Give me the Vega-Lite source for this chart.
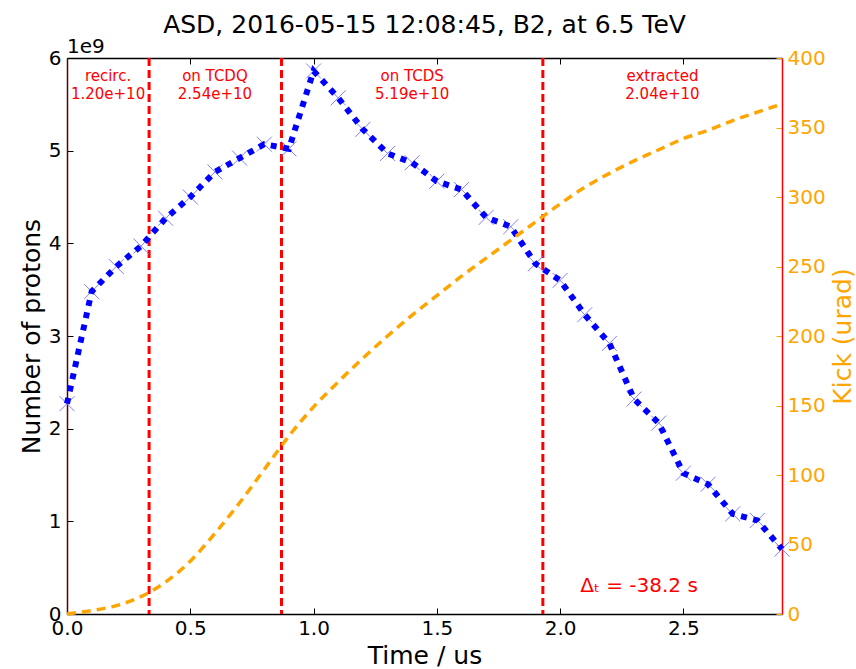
{
  "$schema": "https://vega.github.io/schema/vega-lite/v6.json",
  "width": 715,
  "height": 556,
  "autosize": {"type": "none"},
  "padding": {"left": 67, "top": 58, "right": 74, "bottom": 55},
  "title": {"text": "ASD, 2016-05-15 12:08:45, B2, at 6.5 TeV", "fontSize": 25, "fontWeight": "normal", "font": "DejaVu Sans", "color": "black", "anchor": "middle", "offset": -1},
  "config": {
    "view": {"stroke": null},
    "font": "DejaVu Sans",
    "axis": {"grid": false, "labelFont": "DejaVu Sans", "titleFont": "DejaVu Sans", "labelFontSize": 20, "titleFontSize": 25, "titleFontWeight": "normal", "labelColor": "black", "titleColor": "black", "tickColor": "black", "domainColor": "black", "domainWidth": 1.5, "tickWidth": 1, "labelFlush": false, "labelOverlap": false}
  },
  "datasets": {
    "main": [
      {"t": 0.0, "n": 2.27, "kick": 0},
      {"t": 0.1, "n": 3.48, "kick": 2.5},
      {"t": 0.2, "n": 3.75, "kick": 6},
      {"t": 0.3, "n": 3.97, "kick": 12.5},
      {"t": 0.4, "n": 4.27, "kick": 23},
      {"t": 0.5, "n": 4.50, "kick": 38},
      {"t": 0.6, "n": 4.77, "kick": 58},
      {"t": 0.7, "n": 4.92, "kick": 80},
      {"t": 0.8, "n": 5.07, "kick": 104},
      {"t": 0.9, "n": 5.02, "kick": 128},
      {"t": 1.0, "n": 5.86, "kick": 149},
      {"t": 1.1, "n": 5.57, "kick": 167},
      {"t": 1.2, "n": 5.23, "kick": 184},
      {"t": 1.3, "n": 4.97, "kick": 200},
      {"t": 1.4, "n": 4.87, "kick": 215},
      {"t": 1.5, "n": 4.67, "kick": 229},
      {"t": 1.6, "n": 4.58, "kick": 243},
      {"t": 1.7, "n": 4.28, "kick": 256},
      {"t": 1.8, "n": 4.18, "kick": 269},
      {"t": 1.9, "n": 3.78, "kick": 282},
      {"t": 2.0, "n": 3.60, "kick": 295},
      {"t": 2.1, "n": 3.23, "kick": 307},
      {"t": 2.2, "n": 2.92, "kick": 317},
      {"t": 2.3, "n": 2.32, "kick": 326},
      {"t": 2.4, "n": 2.06, "kick": 334},
      {"t": 2.5, "n": 1.52, "kick": 342},
      {"t": 2.6, "n": 1.40, "kick": 348},
      {"t": 2.7, "n": 1.08, "kick": 355},
      {"t": 2.8, "n": 1.01, "kick": 361},
      {"t": 2.9, "n": 0.70, "kick": 367}
    ],
    "vlines": [{"t": 0.333}, {"t": 0.87}, {"t": 1.93}],
    "regions": [
      {"t": 0.1665, "y": 5.88, "label": "recirc.\n1.20e+10"},
      {"t": 0.60, "y": 5.88, "label": "on TCDQ\n2.54e+10"},
      {"t": 1.40, "y": 5.88, "label": "on TCDS\n5.19e+10"},
      {"t": 2.415, "y": 5.88, "label": "extracted\n2.04e+10"}
    ],
    "delta": [{"t": 2.32, "y": 0.30, "label": "Δₜ = -38.2 s"}],
    "exp": [{"t": 0, "y": 6, "label": "1e9"}]
  },
  "layer": [
    {
      "data": {"name": "vlines"},
      "mark": {"type": "rule", "color": "red", "strokeWidth": 3, "strokeDash": [8, 4]},
      "encoding": {
        "x": {"field": "t", "type": "quantitative", "scale": {"domain": [0, 2.9], "nice": false, "zero": false},
          "axis": {"orient": "top", "labels": false, "title": null, "values": [0, 0.5, 1, 1.5, 2, 2.5], "tickSize": -6, "domainColor": "black"}}
      }
    },
    {
      "data": {"name": "main"},
      "mark": {"type": "point", "shape": "M-1,-1L1,1M-1,1L1,-1", "filled": false, "stroke": "#7f7fff", "strokeWidth": 1, "size": 225, "opacity": 1},
      "encoding": {
        "x": {"field": "t", "type": "quantitative", "scale": {"domain": [0, 2.9], "nice": false, "zero": false}, "axis": null},
        "y": {"field": "n", "type": "quantitative", "scale": {"domain": [0, 6], "nice": false},
          "axis": {"orient": "left", "values": [0, 1, 2, 3, 4, 5, 6], "format": "d", "title": "Number of protons", "tickSize": -6, "labelPadding": 12, "titlePadding": 4, "domainColor": "#5a0000"}}
      }
    },
    {
      "data": {"name": "main"},
      "mark": {"type": "line", "color": "blue", "strokeWidth": 6, "strokeDash": [6, 6.5]},
      "encoding": {
        "x": {"field": "t", "type": "quantitative", "scale": {"domain": [0, 2.9], "nice": false, "zero": false},
          "axis": {"orient": "bottom", "values": [0, 0.5, 1, 1.5, 2, 2.5], "format": ".1f", "title": "Time / us", "tickSize": -6, "labelPadding": 10, "titlePadding": 5}},
        "y": {"field": "n", "type": "quantitative", "scale": {"domain": [0, 6], "nice": false}, "axis": null}
      }
    },
    {
      "data": {"name": "main"},
      "mark": {"type": "line", "color": "orange", "strokeWidth": 3.5, "strokeDash": [9, 6], "interpolate": "monotone"},
      "encoding": {
        "x": {"field": "t", "type": "quantitative", "scale": {"domain": [0, 2.9], "nice": false, "zero": false}, "axis": null},
        "y": {"field": "kick", "type": "quantitative", "scale": {"domain": [0, 400], "nice": false},
          "axis": {"orient": "right", "values": [0, 50, 100, 150, 200, 250, 300, 350, 400], "title": "Kick (urad)", "titleAngle": 270, "titleBaseline": "top", "titleColor": "orange", "labelColor": "orange", "tickColor": "orange", "domainColor": "red", "tickSize": -6, "labelPadding": 11, "titlePadding": 5}}
      }
    },
    {
      "data": {"name": "regions"},
      "mark": {"type": "text", "color": "red", "fontSize": 15, "lineBreak": "\n", "lineHeight": 18, "align": "center", "baseline": "top"},
      "encoding": {
        "x": {"field": "t", "type": "quantitative", "scale": {"domain": [0, 2.9], "nice": false, "zero": false}, "axis": null},
        "y": {"field": "y", "type": "quantitative", "scale": {"domain": [0, 6], "nice": false}, "axis": null},
        "text": {"field": "label", "type": "nominal"}
      }
    },
    {
      "data": {"name": "delta"},
      "mark": {"type": "text", "color": "red", "fontSize": 20, "align": "center", "baseline": "middle"},
      "encoding": {
        "x": {"field": "t", "type": "quantitative", "scale": {"domain": [0, 2.9], "nice": false, "zero": false}, "axis": null},
        "y": {"field": "y", "type": "quantitative", "scale": {"domain": [0, 6], "nice": false}, "axis": null},
        "text": {"field": "label", "type": "nominal"}
      }
    },
    {
      "data": {"name": "exp"},
      "mark": {"type": "text", "color": "black", "fontSize": 20, "align": "left", "baseline": "bottom", "dy": -1},
      "encoding": {
        "x": {"field": "t", "type": "quantitative", "scale": {"domain": [0, 2.9], "nice": false, "zero": false}, "axis": null},
        "y": {"field": "y", "type": "quantitative", "scale": {"domain": [0, 6], "nice": false}, "axis": null},
        "text": {"field": "label", "type": "nominal"}
      }
    }
  ],
  "resolve": {"scale": {"y": "independent"}, "axis": {"x": "independent", "y": "independent"}}
}
